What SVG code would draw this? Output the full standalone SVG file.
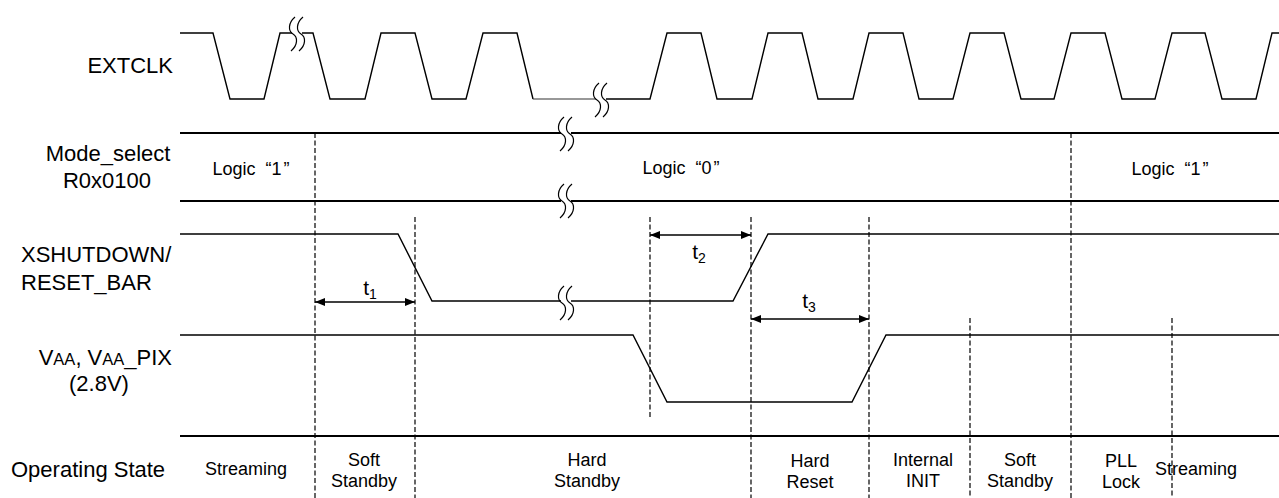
<svg xmlns="http://www.w3.org/2000/svg" xmlns:xlink="http://www.w3.org/1999/xlink" width="1279" height="498" viewBox="0 0 1279 498">
<style>
.wave{fill:none;stroke:#000;stroke-width:1.4;stroke-linejoin:miter}
.thin{fill:none;stroke:#333;stroke-width:1.1}
.bus{fill:none;stroke:#000;stroke-width:1.8}
.dash{fill:none;stroke:#000;stroke-width:1.2;stroke-dasharray:5,2.5}
.brk{fill:none;stroke:#000;stroke-width:1.2}
.arr{fill:none;stroke:#000;stroke-width:1.4;marker-start:url(#ah);marker-end:url(#ah)}
.lbl{font-family:"Liberation Sans",Arial,sans-serif;font-size:22px;fill:#000}
.st{font-family:"Liberation Sans",Arial,sans-serif;font-size:18px;fill:#000;text-anchor:middle}
.lg{font-family:"Liberation Sans",Arial,sans-serif;font-size:18px;fill:#000;text-anchor:middle}
.t{font-family:"Liberation Sans",Arial,sans-serif;font-size:21px;fill:#000;text-anchor:middle}
</style>
<defs>
<marker id="ah" viewBox="0 0 10 8" refX="10" refY="4" markerWidth="10" markerHeight="8" markerUnits="userSpaceOnUse" orient="auto-start-reverse">
<path d="M0,0 L10,4 L0,8 Z" fill="#000"/>
</marker>
<g id="brk">
<path class="brk" d="M-2,-17 C-9,-11 -9,-3 -4,0 C1,3 1,11 -6,17"/>
<path class="brk" d="M6,-17 C-1,-11 -1,-3 4,0 C9,3 9,11 2,17"/>
</g>
</defs>

<g id="extclk">
<text class="lbl" x="173" y="73" text-anchor="end">EXTCLK</text>
<polyline class="wave" points="180,33 213,33 230,99 264,99 280,33 292,33"/>
<polyline class="wave" points="302,33 313,33 330,99 365,99 381,33 415,33 432,99 466,99 483,33 517,33 533,99"/>
<polyline class="thin" points="533,99 596,99"/>
<polyline class="wave" points="606,99 650,99 667,33 701,33 717,99 752,99 768,33 802,33 818,99 853,99 869,33 903,33 919,99 953,99 970,33 1004,33 1021,99 1054,99 1071,33 1105,33 1122,99 1155,99 1172,33 1205,33 1222,99 1256,99 1272,33 1279,33"/>
<use xlink:href="#brk" x="297" y="34"/>
<use xlink:href="#brk" x="601" y="100"/>
</g>

<g id="mode_select">
<text class="lbl" x="108" y="161" text-anchor="middle">Mode_select</text>
<text class="lbl" x="107" y="188" text-anchor="middle">R0x0100</text>
<path class="bus" d="M180,133 H561 M571,133 H1279 M180,201 H561 M571,201 H1279"/>
<use xlink:href="#brk" x="566" y="134"/>
<use xlink:href="#brk" x="566" y="201"/>
<text class="lg" x="251" y="175">Logic <tspan dx="5">“</tspan>1<tspan dx="2">”</tspan></text>
<text class="lg" x="681" y="174">Logic <tspan dx="5">“</tspan>0<tspan dx="2">”</tspan></text>
<text class="lg" x="1170" y="175">Logic <tspan dx="5">“</tspan>1<tspan dx="2">”</tspan></text>
</g>

<g id="xshutdown">
<text class="lbl" x="21" y="262">XSHUTDOWN/</text>
<text class="lbl" x="21" y="290">RESET_BAR</text>
<polyline class="wave" points="180,234 398,234 432,301 561,301"/>
<polyline class="wave" points="571,301 733,301 768,234 1279,234"/>
<use xlink:href="#brk" x="566" y="303"/>
</g>

<g id="vaa">
<text class="lbl" x="172" y="365" text-anchor="end">V<tspan font-size="16.5px">AA</tspan>, V<tspan font-size="16.5px">AA</tspan>_PIX</text>
<text class="lbl" x="99" y="391" text-anchor="middle">(2.8V)</text>
<polyline class="wave" points="180,335 633,335 667,402 852,402 886,335 1279,335"/>
</g>

<g id="operating_state">
<text class="lbl" x="11" y="477">Operating State</text>
<path class="bus" d="M180,436 H1279"/>
<text class="st" x="246" y="475">Streaming</text>
<text class="st" x="364" y="466">Soft</text>
<text class="st" x="364" y="487">Standby</text>
<text class="st" x="587" y="466">Hard</text>
<text class="st" x="587" y="487">Standby</text>
<text class="st" x="810" y="467">Hard</text>
<text class="st" x="810" y="488">Reset</text>
<text class="st" x="923" y="466">Internal</text>
<text class="st" x="923" y="487">INIT</text>
<text class="st" x="1020" y="466">Soft</text>
<text class="st" x="1020" y="487">Standby</text>
<text class="st" x="1121" y="467">PLL</text>
<text class="st" x="1121" y="488">Lock</text>
<text class="st" x="1196" y="475" text-anchor="start">Streaming</text>
</g>

<g id="connectors">
<path class="dash" d="M315,133 V498 M1071,133 V498 M415,217 V498 M650,217 V418 M751,217 V498 M869,217 V498 M970,318 V498 M1172,318 V498"/>
<line class="arr" x1="315" y1="302" x2="415" y2="302"/>
<line class="arr" x1="650" y1="235" x2="751" y2="235"/>
<line class="arr" x1="751" y1="319" x2="869" y2="319"/>
<text class="t" x="370" y="295">t<tspan font-size="14px" dy="4">1</tspan></text>
<text class="t" x="699" y="259">t<tspan font-size="14px" dy="4">2</tspan></text>
<text class="t" x="809" y="308">t<tspan font-size="14px" dy="4">3</tspan></text>
</g>
</svg>
